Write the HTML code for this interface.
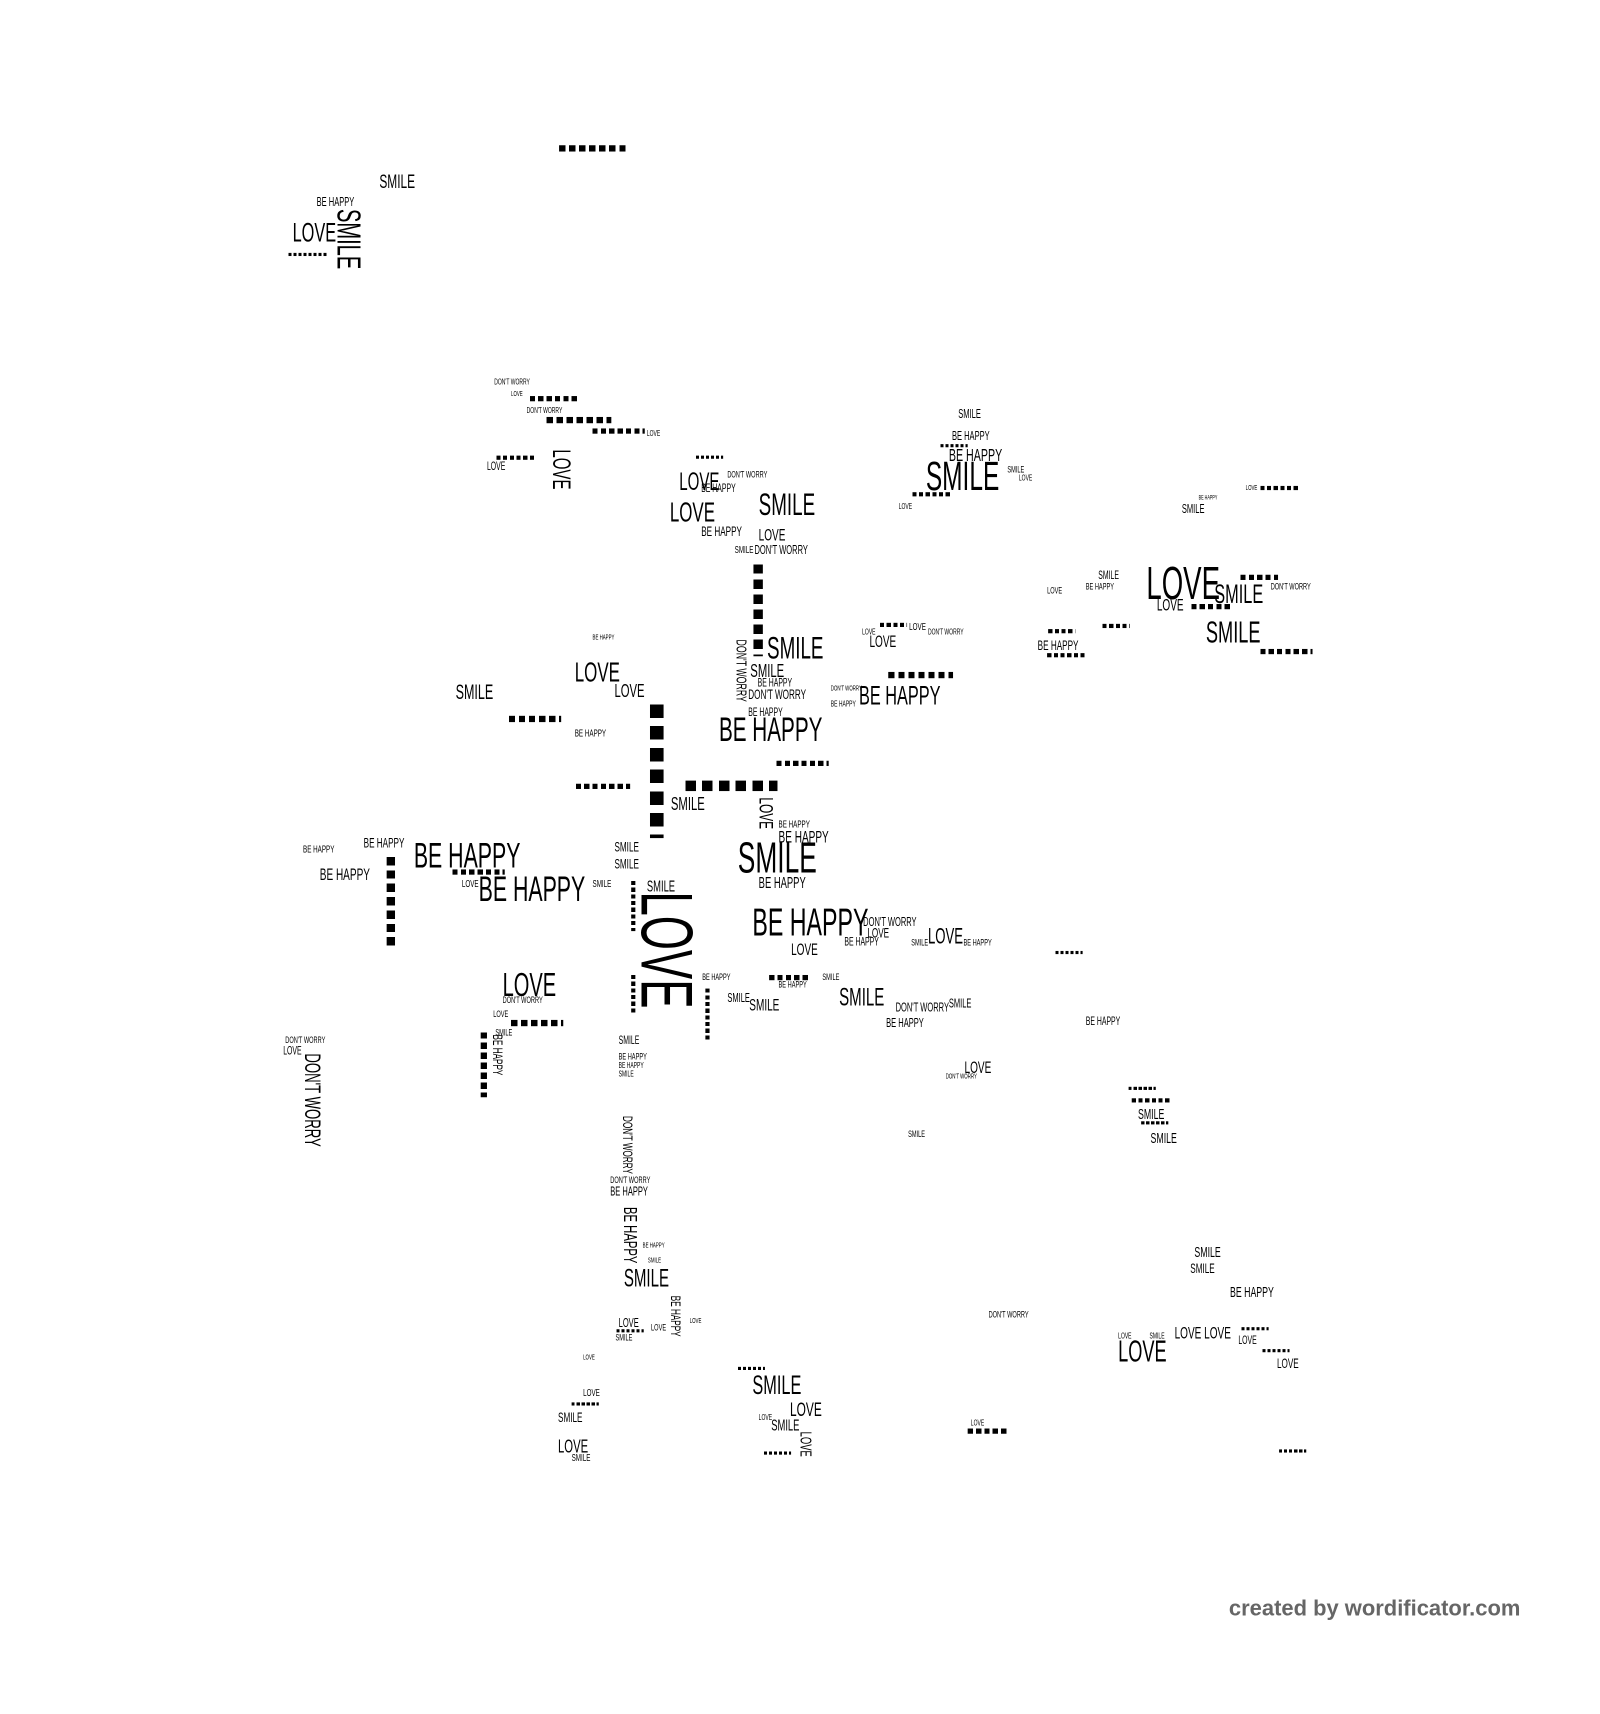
<!DOCTYPE html>
<html><head><meta charset="utf-8"><style>
html,body{margin:0;padding:0;background:#fff}
body{width:1600px;height:1640px;position:relative;overflow:hidden}
#w{position:absolute;left:0;top:0;width:1600px;height:1640px;transform:scale(1.045);transform-origin:0 0}
.t{position:absolute;font-family:"Liberation Sans",sans-serif;line-height:1;white-space:nowrap;transform:scaleX(.6);transform-origin:0 0;color:#000}
.v{position:absolute;font-family:"Liberation Sans",sans-serif;line-height:1;white-space:nowrap;writing-mode:vertical-rl;transform:scaleY(.6);transform-origin:0 0;color:#000}
.h{position:absolute;background:repeating-linear-gradient(90deg,#000 0 var(--s),transparent var(--s) calc(var(--s)*1.6))}
.c{position:absolute;background:repeating-linear-gradient(180deg,#000 0 var(--s),transparent var(--s) calc(var(--s)*1.6))}
.f{position:absolute;left:1176px;top:1528px;font-family:"Liberation Sans",sans-serif;font-weight:bold;font-size:21px;color:#666}
</style></head><body><div id="w">
<div class="h" style="--s:6px;left:535px;top:139px;width:64px;height:6px"></div>
<div class="t" style="left:363px;top:165px;font-size:19px">SMILE</div>
<div class="t" style="left:303px;top:187px;font-size:12px">BE HAPPY</div>
<div class="t" style="left:280px;top:209px;font-size:26px">LOVE</div>
<div class="v" style="left:318px;top:200px;font-size:32px">SMILE</div>
<div class="h" style="--s:3px;left:276px;top:242px;width:38px;height:3px"></div>

<div class="t" style="left:473px;top:362px;font-size:8px">DON'T WORRY</div>
<div class="t" style="left:489px;top:374px;font-size:7px">LOVE</div>
<div class="h" style="--s:5px;left:507px;top:379px;width:48px;height:5px"></div>
<div class="t" style="left:504px;top:389px;font-size:8px">DON'T WORRY</div>
<div class="h" style="--s:6px;left:523px;top:399px;width:62px;height:6px"></div>
<div class="h" style="--s:5px;left:567px;top:410px;width:50px;height:5px"></div>
<div class="t" style="left:619px;top:411px;font-size:8px">LOVE</div>
<div class="v" style="left:524px;top:430px;font-size:24px">LOVE</div>
<div class="h" style="--s:4px;left:475px;top:436px;width:38px;height:4px"></div>
<div class="t" style="left:466px;top:442px;font-size:11px">LOVE</div>
<div class="h" style="--s:3px;left:666px;top:436px;width:26px;height:3px"></div>
<div class="t" style="left:696px;top:450px;font-size:9px">DON'T WORRY</div>
<div class="t" style="left:650px;top:450px;font-size:24px">LOVE</div>
<div class="t" style="left:671px;top:463px;font-size:11px">BE HAPPY</div>
<div class="t" style="left:641px;top:477px;font-size:27px">LOVE</div>
<div class="t" style="left:726px;top:469px;font-size:30px">SMILE</div>
<div class="t" style="left:671px;top:502px;font-size:13px">BE HAPPY</div>
<div class="t" style="left:726px;top:505px;font-size:16px">LOVE</div>
<div class="t" style="left:722px;top:520px;font-size:12px">DON'T WORRY</div>
<div class="t" style="left:703px;top:522px;font-size:10px">SMILE</div>
<div class="c" style="--s:9px;left:721px;top:540px;width:9px;height:88px"></div>
<div class="v" style="left:703px;top:612px;font-size:14px">DON'T WORRY</div>
<div class="t" style="left:734px;top:606px;font-size:30px">SMILE</div>
<div class="t" style="left:718px;top:633px;font-size:18px">SMILE</div>
<div class="t" style="left:725px;top:649px;font-size:11px">BE HAPPY</div>
<div class="t" style="left:716px;top:658px;font-size:13px">DON'T WORRY</div>
<div class="t" style="left:716px;top:677px;font-size:11px">BE HAPPY</div>
<div class="t" style="left:688px;top:681px;font-size:33px">BE HAPPY</div>
<div class="h" style="--s:5px;left:743px;top:728px;width:50px;height:5px"></div>

<div class="t" style="left:550px;top:630px;font-size:27px">LOVE</div>
<div class="t" style="left:588px;top:652px;font-size:18px">LOVE</div>
<div class="t" style="left:436px;top:653px;font-size:20px">SMILE</div>
<div class="h" style="--s:6px;left:487px;top:685px;width:50px;height:6px"></div>
<div class="t" style="left:550px;top:698px;font-size:10px">BE HAPPY</div>
<div class="t" style="left:567px;top:607px;font-size:7px">BE HAPPY</div>
<div class="c" style="--s:13px;left:622px;top:674px;width:13px;height:128px"></div>
<div class="h" style="--s:5px;left:551px;top:750px;width:52px;height:5px"></div>
<div class="h" style="--s:10px;left:656px;top:747px;width:88px;height:10px"></div>
<div class="t" style="left:642px;top:760px;font-size:18px">SMILE</div>
<div class="v" style="left:723px;top:763px;font-size:19px">LOVE</div>
<div class="t" style="left:745px;top:785px;font-size:10px">BE HAPPY</div>
<div class="t" style="left:745px;top:794px;font-size:16px">BE HAPPY</div>
<div class="t" style="left:706px;top:800px;font-size:42px">SMILE</div>
<div class="t" style="left:726px;top:838px;font-size:15px">BE HAPPY</div>
<div class="t" style="left:720px;top:864px;font-size:37px">BE HAPPY</div>
<div class="t" style="left:826px;top:876px;font-size:12px">DON'T WORRY</div>
<div class="t" style="left:830px;top:886px;font-size:13px">LOVE</div>
<div class="t" style="left:888px;top:886px;font-size:21px">LOVE</div>
<div class="t" style="left:808px;top:897px;font-size:11px">BE HAPPY</div>
<div class="t" style="left:757px;top:902px;font-size:16px">LOVE</div>
<div class="v" style="left:603px;top:853px;font-size:70px">LOVE</div>
<div class="c" style="--s:4px;left:604px;top:843px;width:4px;height:48px"></div>
<div class="c" style="--s:4px;left:604px;top:933px;width:4px;height:38px"></div>

<div class="t" style="left:396px;top:802px;font-size:34px">BE HAPPY</div>
<div class="t" style="left:458px;top:834px;font-size:34px">BE HAPPY</div>
<div class="t" style="left:348px;top:800px;font-size:13px">BE HAPPY</div>
<div class="t" style="left:306px;top:830px;font-size:16px">BE HAPPY</div>
<div class="t" style="left:290px;top:809px;font-size:10px">BE HAPPY</div>
<div class="c" style="--s:8px;left:370px;top:820px;width:8px;height:88px"></div>
<div class="h" style="--s:5px;left:433px;top:832px;width:50px;height:5px"></div>
<div class="t" style="left:442px;top:842px;font-size:10px">LOVE</div>
<div class="t" style="left:588px;top:804px;font-size:13px">SMILE</div>
<div class="t" style="left:588px;top:820px;font-size:13px">SMILE</div>
<div class="t" style="left:619px;top:841px;font-size:15px">SMILE</div>
<div class="t" style="left:567px;top:842px;font-size:10px">SMILE</div>

<div class="t" style="left:481px;top:926px;font-size:32px">LOVE</div>
<div class="t" style="left:481px;top:953px;font-size:9px">DON'T WORRY</div>
<div class="t" style="left:472px;top:966px;font-size:9px">LOVE</div>
<div class="h" style="--s:6px;left:489px;top:976px;width:50px;height:6px"></div>
<div class="t" style="left:474px;top:984px;font-size:9px">SMILE</div>
<div class="v" style="left:470px;top:990px;font-size:13px">BE HAPPY</div>
<div class="c" style="--s:6px;left:460px;top:988px;width:6px;height:62px"></div>
<div class="t" style="left:273px;top:991px;font-size:9px">DON'T WORRY</div>
<div class="t" style="left:271px;top:1001px;font-size:11px">LOVE</div>
<div class="v" style="left:288px;top:1008px;font-size:21px">DON'T WORRY</div>

<div class="t" style="left:803px;top:943px;font-size:24px">SMILE</div>
<div class="t" style="left:717px;top:955px;font-size:16px">SMILE</div>
<div class="t" style="left:696px;top:949px;font-size:12px">SMILE</div>
<div class="t" style="left:672px;top:931px;font-size:9px">BE HAPPY</div>
<div class="t" style="left:745px;top:938px;font-size:9px">BE HAPPY</div>
<div class="t" style="left:787px;top:931px;font-size:9px">SMILE</div>
<div class="c" style="--s:4px;left:675px;top:946px;width:4px;height:50px"></div>
<div class="h" style="--s:5px;left:736px;top:933px;width:38px;height:5px"></div>
<div class="t" style="left:857px;top:958px;font-size:12px">DON'T WORRY</div>
<div class="t" style="left:848px;top:973px;font-size:12px">BE HAPPY</div>
<div class="t" style="left:908px;top:954px;font-size:12px">SMILE</div>
<div class="t" style="left:923px;top:1015px;font-size:16px">LOVE</div>
<div class="t" style="left:905px;top:1027px;font-size:7px">DON'T WORRY</div>
<div class="h" style="--s:3px;left:1010px;top:910px;width:26px;height:3px"></div>
<div class="t" style="left:1039px;top:973px;font-size:11px">BE HAPPY</div>
<div class="t" style="left:922px;top:898px;font-size:9px">BE HAPPY</div>
<div class="t" style="left:872px;top:898px;font-size:9px">SMILE</div>

<div class="t" style="left:1097px;top:537px;font-size:44px">LOVE</div>
<div class="t" style="left:1162px;top:555px;font-size:26px">SMILE</div>
<div class="t" style="left:1154px;top:592px;font-size:29px">SMILE</div>
<div class="h" style="--s:5px;left:1206px;top:621px;width:50px;height:5px"></div>
<div class="h" style="--s:5px;left:1187px;top:550px;width:36px;height:5px"></div>
<div class="t" style="left:1107px;top:572px;font-size:16px">LOVE</div>
<div class="h" style="--s:5px;left:1140px;top:578px;width:38px;height:5px"></div>
<div class="t" style="left:1216px;top:557px;font-size:9px">DON'T WORRY</div>
<div class="t" style="left:1051px;top:546px;font-size:11px">SMILE</div>
<div class="t" style="left:1039px;top:557px;font-size:9px">BE HAPPY</div>
<div class="t" style="left:1002px;top:561px;font-size:9px">LOVE</div>
<div class="t" style="left:993px;top:611px;font-size:13px">BE HAPPY</div>
<div class="h" style="--s:4px;left:1002px;top:625px;width:38px;height:4px"></div>
<div class="h" style="--s:4px;left:1003px;top:602px;width:26px;height:4px"></div>
<div class="h" style="--s:4px;left:1055px;top:597px;width:26px;height:4px"></div>

<div class="t" style="left:886px;top:437px;font-size:39px">SMILE</div>
<div class="t" style="left:908px;top:427px;font-size:17px">BE HAPPY</div>
<div class="t" style="left:911px;top:411px;font-size:12px">BE HAPPY</div>
<div class="t" style="left:917px;top:390px;font-size:12px">SMILE</div>
<div class="h" style="--s:4px;left:873px;top:471px;width:38px;height:4px"></div>
<div class="h" style="--s:3px;left:900px;top:425px;width:26px;height:3px"></div>
<div class="t" style="left:964px;top:445px;font-size:9px">SMILE</div>
<div class="t" style="left:975px;top:454px;font-size:8px">LOVE</div>
<div class="t" style="left:860px;top:481px;font-size:8px">LOVE</div>
<div class="t" style="left:1131px;top:481px;font-size:12px">SMILE</div>
<div class="t" style="left:1147px;top:474px;font-size:6px">BE HAPPY</div>
<div class="h" style="--s:4px;left:1206px;top:465px;width:38px;height:4px"></div>
<div class="t" style="left:1192px;top:464px;font-size:7px">LOVE</div>

<div class="t" style="left:822px;top:652px;font-size:26px">BE HAPPY</div>
<div class="h" style="--s:6px;left:850px;top:643px;width:62px;height:6px"></div>
<div class="t" style="left:832px;top:607px;font-size:16px">LOVE</div>
<div class="h" style="--s:4px;left:842px;top:596px;width:26px;height:4px"></div>
<div class="t" style="left:870px;top:596px;font-size:10px">LOVE</div>
<div class="t" style="left:888px;top:601px;font-size:8px">DON'T WORRY</div>
<div class="t" style="left:825px;top:601px;font-size:8px">LOVE</div>
<div class="t" style="left:795px;top:656px;font-size:7px">DON'T WORRY</div>
<div class="t" style="left:795px;top:670px;font-size:8px">BE HAPPY</div>

<div class="v" style="left:594px;top:1068px;font-size:13px">DON'T WORRY</div>
<div class="t" style="left:584px;top:1125px;font-size:9px">DON'T WORRY</div>
<div class="t" style="left:584px;top:1134px;font-size:12px">BE HAPPY</div>
<div class="v" style="left:594px;top:1155px;font-size:18px">BE HAPPY</div>
<div class="t" style="left:597px;top:1212px;font-size:24px">SMILE</div>
<div class="v" style="left:640px;top:1240px;font-size:13px">BE HAPPY</div>
<div class="t" style="left:592px;top:1260px;font-size:12px">LOVE</div>
<div class="h" style="--s:3px;left:590px;top:1272px;width:26px;height:3px"></div>
<div class="t" style="left:589px;top:1276px;font-size:9px">SMILE</div>
<div class="t" style="left:592px;top:991px;font-size:11px">SMILE</div>
<div class="t" style="left:592px;top:1007px;font-size:9px">BE HAPPY</div>
<div class="t" style="left:592px;top:1016px;font-size:8px">BE HAPPY</div>
<div class="t" style="left:592px;top:1024px;font-size:8px">SMILE</div>
<div class="t" style="left:615px;top:1189px;font-size:7px">BE HAPPY</div>
<div class="t" style="left:620px;top:1203px;font-size:7px">SMILE</div>
<div class="t" style="left:623px;top:1266px;font-size:9px">LOVE</div>
<div class="t" style="left:660px;top:1261px;font-size:7px">LOVE</div>
<div class="t" style="left:558px;top:1296px;font-size:7px">LOVE</div>

<div class="t" style="left:720px;top:1312px;font-size:26px">SMILE</div>
<div class="h" style="--s:3px;left:706px;top:1308px;width:26px;height:3px"></div>
<div class="t" style="left:756px;top:1340px;font-size:19px">LOVE</div>
<div class="t" style="left:738px;top:1357px;font-size:15px">SMILE</div>
<div class="t" style="left:726px;top:1353px;font-size:8px">LOVE</div>
<div class="v" style="left:763px;top:1370px;font-size:15px">LOVE</div>
<div class="h" style="--s:3px;left:731px;top:1389px;width:26px;height:3px"></div>
<div class="t" style="left:558px;top:1329px;font-size:10px">LOVE</div>
<div class="h" style="--s:3px;left:547px;top:1342px;width:26px;height:3px"></div>
<div class="t" style="left:534px;top:1350px;font-size:13px">SMILE</div>
<div class="t" style="left:534px;top:1375px;font-size:18px">LOVE</div>
<div class="t" style="left:547px;top:1391px;font-size:10px">SMILE</div>

<div class="t" style="left:1070px;top:1280px;font-size:29px">LOVE</div>
<div class="t" style="left:1124px;top:1269px;font-size:16px">LOVE LOVE</div>
<div class="t" style="left:1143px;top:1191px;font-size:14px">SMILE</div>
<div class="t" style="left:1139px;top:1207px;font-size:13px">SMILE</div>
<div class="t" style="left:1177px;top:1229px;font-size:14px">BE HAPPY</div>
<div class="t" style="left:1222px;top:1298px;font-size:13px">LOVE</div>
<div class="t" style="left:1185px;top:1278px;font-size:11px">LOVE</div>
<div class="h" style="--s:3px;left:1188px;top:1270px;width:26px;height:3px"></div>
<div class="h" style="--s:3px;left:1208px;top:1291px;width:26px;height:3px"></div>
<div class="t" style="left:1070px;top:1275px;font-size:8px">LOVE</div>
<div class="t" style="left:1100px;top:1275px;font-size:8px">SMILE</div>
<div class="t" style="left:1089px;top:1059px;font-size:14px">SMILE</div>
<div class="h" style="--s:4px;left:1083px;top:1051px;width:38px;height:4px"></div>
<div class="h" style="--s:3px;left:1080px;top:1040px;width:26px;height:3px"></div>
<div class="t" style="left:1101px;top:1082px;font-size:14px">SMILE</div>
<div class="h" style="--s:3px;left:1092px;top:1073px;width:26px;height:3px"></div>
<div class="h" style="--s:5px;left:926px;top:1367px;width:38px;height:5px"></div>
<div class="t" style="left:929px;top:1358px;font-size:8px">LOVE</div>
<div class="h" style="--s:3px;left:1224px;top:1387px;width:26px;height:3px"></div>
<div class="t" style="left:869px;top:1081px;font-size:9px">SMILE</div>
<div class="t" style="left:946px;top:1254px;font-size:9px">DON'T WORRY</div>

<div class="f">created by wordificator.com</div>
</div></body></html>
